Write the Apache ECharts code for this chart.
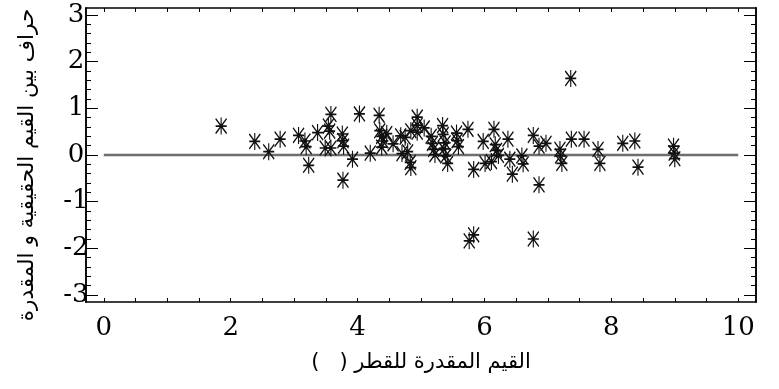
<!DOCTYPE html>
<html>
<head>
<meta charset="utf-8">
<script src="https://cdn.jsdelivr.net/npm/echarts@6/dist/echarts.min.js"></script>
<style>
html,body{margin:0;padding:0;background:#fff;}
#chart{width:779px;height:389px;}
</style>
</head>
<body>
<div id="chart"></div>
<script>
// ---- data ----
var estimatedX = [1.85,2.38,2.60,2.78,3.07,3.17,3.19,3.23,3.37,3.49,3.54,3.58,3.56,3.58,3.76,3.77,3.78,3.77,3.92,4.03,
  4.20,4.34,4.35,4.38,4.40,4.38,4.46,4.56,4.68,4.70,4.75,4.79,4.83,4.84,4.84,4.94,4.94,4.94,5.05,5.16,
  5.18,5.20,5.22,5.34,5.35,5.38,5.36,5.39,5.42,5.56,5.57,5.59,5.74,5.83,5.98,6.01,6.11,6.15,6.17,6.19,
  6.22,6.37,6.40,6.44,6.59,6.61,6.77,6.86,6.86,6.97,7.19,7.20,7.22,7.37,7.36,7.57,7.79,7.82,8.18,8.37,
  8.42,8.98,8.99,9.00,5.76,5.83,6.77];
var deviationY = [0.62,0.29,0.07,0.34,0.42,0.30,0.18,-0.22,0.48,0.15,0.62,0.87,0.51,0.15,0.45,0.31,0.19,-0.54,-0.09,0.88,
  0.04,0.85,0.52,0.40,0.30,0.17,0.46,0.24,0.41,0.03,0.38,0.07,-0.16,-0.27,0.52,0.81,0.64,0.49,0.58,0.40,
  0.25,0.12,0.01,0.63,0.44,0.26,0.13,-0.02,-0.18,0.47,0.31,0.18,0.55,-0.31,0.29,-0.18,-0.14,0.55,0.22,0.10,
  -0.01,0.34,-0.09,-0.41,-0.02,-0.19,0.42,0.19,-0.64,0.25,0.12,-0.02,-0.18,0.34,1.64,0.34,0.12,-0.18,0.25,0.30,
  -0.26,0.19,0.04,-0.08,-1.84,-1.71,-1.80];
var zeroLineX = [0, 10];
var zeroLineY = [0, 0];
var xTickLabels = [0, 2, 4, 6, 8, 10];
var xMinorTicks = [0,0.5,1,1.5,2,2.5,3,3.5,4,4.5,5,5.5,6,6.5,7,7.5,8,8.5,9,9.5,10];
var yTickLabels = [-3, -2, -1, 0, 1, 2, 3];
var yMinorTicks = [-3,-2.8,-2.6,-2.4,-2.2,-2,-1.8,-1.6,-1.4,-1.2,-1,-0.8,-0.6,-0.4,-0.2,0,
  0.2,0.4,0.6,0.8,1,1.2,1.4,1.6,1.8,2,2.2,2.4,2.6,2.8,3];
var xName = 'القيم المقدرة للقطر (   )';
var yName = 'حراف بين القيم الحقيقية و المقدرة';

// ---- chart ----
var X_MIN = -0.28, X_MAX = 10.28, Y_MIN = -3.15, Y_MAX = 3.15;
var axisCol = '#000';
var labelFont = {fontFamily: 'DejaVu Serif', fontSize: 26, color: '#000'};
var RLE = '\u202B', PDF = '\u202C';

function xAx(pos, show, ticks, len, withName) {
  var a = {
    type: 'value', position: pos, min: X_MIN, max: X_MAX,
    splitLine: {show: false},
    axisLine: {show: true, onZero: false, lineStyle: {color: axisCol, width: 1.5}},
    axisTick: {show: true, inside: true, length: len, customValues: ticks, lineStyle: {color: axisCol, width: 1}},
    axisLabel: show ? Object.assign({show: true, margin: 13, customValues: xTickLabels}, labelFont) : {show: false}
  };
  if (withName) {
    a.name = RLE + xName + PDF; a.nameLocation = 'middle'; a.nameGap = 50;
    a.nameTextStyle = {fontFamily: 'DejaVu Sans', fontSize: 21, color: '#000'};
  }
  return a;
}
function yAx(pos, show, ticks, len, withName) {
  var a = {
    type: 'value', position: pos, min: Y_MIN, max: Y_MAX,
    splitLine: {show: false},
    axisLine: {show: true, onZero: false, lineStyle: {color: axisCol, width: 1.5}},
    axisTick: {show: true, inside: true, length: len, customValues: ticks, lineStyle: {color: axisCol, width: 1}},
    axisLabel: show ? Object.assign({show: true, margin: 10, align: 'center', customValues: yTickLabels,
      formatter: function (v) { return v < 0 ? '-' + Math.abs(v) : String(v); }}, labelFont) : {show: false}
  };
  if (withName) {
    a.name = yName; a.nameLocation = 'middle'; a.nameGap = 48;
    a.nameTextStyle = {fontFamily: 'DejaVu Sans', fontSize: 21.5, color: '#000', padding: [0, 20, 0, 0]};
  }
  return a;
}

var asterisk = 'path://M5,0L5,16M0,8L10,8M0,1L10,15M10,1L0,15';
var pts = estimatedX.map(function (x, i) { return [x, deviationY[i]]; });
var zero = zeroLineX.map(function (x, i) { return [x, zeroLineY[i]]; });

var chart = echarts.init(document.getElementById('chart'), null, {renderer: 'canvas'});
chart.setOption({
  animation: false,
  backgroundColor: '#fff',
  grid: {left: 86, right: 23, top: 8, bottom: 87, containLabel: false},
  xAxis: [
    xAx('bottom', true, xMinorTicks, 4, true),
    xAx('top', false, xMinorTicks, 4, false)
  ],
  yAxis: [
    yAx('left', true, yTickLabels, 12, true),
    yAx('left', false, yMinorTicks, 5, false),
    yAx('right', false, yTickLabels, 12, false),
    yAx('right', false, yMinorTicks, 5, false)
  ],
  series: [
    {type: 'line', data: zero, xAxisIndex: 0, yAxisIndex: 0, symbol: 'none', z: 1,
     lineStyle: {color: '#6e6e6e', width: 2.5}},
    {type: 'scatter', data: pts, xAxisIndex: 0, yAxisIndex: 0, z: 3,
     symbol: asterisk, symbolSize: [11, 17],
     itemStyle: {color: 'transparent', borderColor: '#111', borderWidth: 1.4, opacity: 1}}
  ]
});
</script>
</body>
</html>
